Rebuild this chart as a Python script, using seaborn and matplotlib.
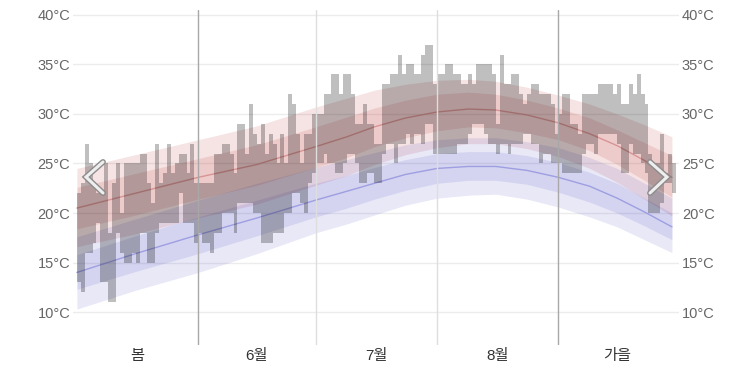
import matplotlib
matplotlib.use("Agg")
import matplotlib.pyplot as plt
import matplotlib.patheffects as pe
import numpy as np
import seaborn as sns

# --- data ---------------------------------------------------------------- #

month_labels = ["봄", "6월", "7월", "8월", "가을"]
month_days = [31, 30, 31, 31, 30]

# observed daily high / low (°C), May 1 .. Sep 30
daily_high = [
    22, 23, 27, 25, 23, 22, 22, 25, 18, 23, 25, 20, 25, 25, 25, 25, 26, 26, 23, 21,
    27, 23, 24, 27, 24, 25, 26, 26, 24, 27, 23,
    23, 23, 23, 23, 26, 26, 27, 27, 26, 24, 29, 29, 26, 31, 28, 27, 29, 26, 28, 27,
    25, 28, 25, 32, 31, 28, 25, 28, 28, 30,
    30, 30, 32, 32, 34, 34, 32, 34, 34, 32, 29, 29, 31, 29, 29, 27, 27, 33, 33, 34,
    34, 36, 34, 35, 35, 34, 34, 36, 37, 37, 33,
    34, 34, 35, 35, 34, 34, 33, 33, 34, 33, 35, 35, 35, 35, 34, 29, 36, 33, 33, 34,
    34, 32, 31, 32, 33, 33, 32, 32, 32, 31, 28,
    30, 32, 32, 29, 29, 28, 32, 32, 32, 32, 33, 33, 33, 33, 32, 33, 31, 31, 33, 32,
    34, 32, 31, 26, 25, 25, 28, 24, 26, 25,
]
daily_low = [
    13, 12, 16, 16, 17, 19, 13, 13, 11, 11, 18, 16, 15, 15, 16, 15, 18, 18, 15, 15,
    18, 19, 19, 19, 19, 19, 22, 19, 19, 19, 17,
    18, 17, 17, 16, 18, 18, 20, 20, 20, 18, 21, 21, 21, 21, 20, 20, 17, 17, 17, 18,
    18, 18, 20, 20, 22, 22, 21, 20, 23, 24,
    25, 25, 26, 25, 25, 24, 24, 25, 26, 26, 25, 23, 23, 24, 24, 23, 23, 26, 27, 27,
    25, 27, 27, 28, 27, 28, 28, 27, 29, 29, 26,
    26, 26, 26, 26, 26, 27, 27, 27, 28, 29, 29, 29, 28, 27, 27, 26, 27, 27, 26, 27,
    27, 27, 28, 28, 27, 27, 25, 26, 26, 25, 25,
    25, 24, 24, 24, 24, 24, 26, 27, 27, 26, 28, 28, 28, 28, 28, 27, 24, 24, 27, 26,
    26, 25, 24, 20, 20, 20, 21, 23, 23, 22,
]

# climatology bands (day index from May 1)
band_day = [0, 15, 31, 46, 61, 69, 76, 84, 92, 100, 107, 115, 123, 131, 138, 145, 152]
hi_mean = [20.5, 22.0, 23.6, 24.9, 26.7, 27.7, 28.7, 29.6, 30.2, 30.5, 30.4, 29.9, 29.1, 28.0, 26.8, 25.3, 23.6]
hi_p90 = [24.5, 25.9, 27.4, 28.8, 30.7, 31.6, 32.4, 33.0, 33.4, 33.5, 33.3, 32.7, 31.9, 31.0, 30.0, 28.9, 27.7]
hi_p75 = [22.6, 24.0, 25.5, 26.9, 28.7, 29.7, 30.6, 31.4, 32.0, 32.2, 32.0, 31.4, 30.6, 29.6, 28.4, 27.1, 25.8]
hi_p25 = [18.4, 19.8, 21.4, 22.8, 24.6, 25.6, 26.7, 27.6, 28.3, 28.7, 28.6, 28.1, 27.4, 26.3, 24.9, 23.3, 21.6]
hi_p10 = [16.6, 17.9, 19.5, 20.9, 22.8, 23.8, 24.9, 25.9, 26.6, 27.0, 27.0, 26.5, 25.7, 24.5, 23.1, 21.4, 19.7]
lo_mean = [14.0, 15.9, 17.8, 19.5, 21.3, 22.2, 23.0, 23.9, 24.5, 24.7, 24.7, 24.3, 23.6, 22.7, 21.5, 20.1, 18.6]
lo_p90 = [17.6, 19.4, 21.3, 23.0, 24.6, 25.4, 26.1, 26.9, 27.4, 27.6, 27.6, 27.2, 26.6, 25.6, 24.5, 23.0, 21.5]
lo_p75 = [15.8, 17.7, 19.6, 21.3, 23.0, 23.8, 24.6, 25.4, 26.0, 26.2, 26.2, 25.8, 25.1, 24.1, 23.0, 21.5, 20.0]
lo_p25 = [12.3, 14.1, 15.9, 17.7, 19.6, 20.5, 21.4, 22.3, 23.0, 23.3, 23.3, 22.9, 22.1, 21.1, 20.0, 18.7, 17.3]
lo_p10 = [10.3, 12.2, 14.0, 15.9, 18.0, 18.9, 19.8, 20.8, 21.5, 21.8, 21.9, 21.4, 20.6, 19.6, 18.6, 17.3, 16.0]

y_ticks = [10, 15, 20, 25, 30, 35, 40]

# --- style ----------------------------------------------------------------- #

sns.set_theme(style="white")
plt.rcParams["font.family"] = ["Liberation Sans", "Noto Sans CJK KR"]

RED = "#c03c3c"
BLUE = "#4f4fc8"

W, H = 753, 367
fig = plt.figure(figsize=(W / 100, H / 100), dpi=100)
ax = fig.add_axes([73 / W, 1 - 345 / H, (679 - 73) / W, (345 - 10) / H])

# percentile bands
for lo_b, hi_b in [(hi_p10, hi_p90), (hi_p25, hi_p75)]:
    ax.fill_between(band_day, lo_b, hi_b, color=RED, alpha=0.14, lw=0, zorder=1)
for lo_b, hi_b in [(lo_p10, lo_p90), (lo_p25, lo_p75)]:
    ax.fill_between(band_day, lo_b, hi_b, color=BLUE, alpha=0.13, lw=0, zorder=1)

sns.lineplot(x=band_day, y=hi_mean, color="#d89494", lw=1.0, ax=ax, zorder=2)
sns.lineplot(x=band_day, y=lo_mean, color="#9e9ee2", lw=1.0, ax=ax, zorder=2)

# daily range bars, drawn as one stepped polygon so adjacent days don't seam
n = len(daily_high)
edges = np.arange(n + 1)
ax.fill_between(edges, daily_low + daily_low[-1:], daily_high + daily_high[-1:],
                step="post", color="black", alpha=0.25, lw=0, zorder=3)

# month separators
bounds = np.cumsum(month_days)[:-1]
for i, b in enumerate(bounds):
    dark = i in (0, len(bounds) - 1)
    ax.axvline(b, color="#a8a8a8" if dark else "#dedede", lw=1, zorder=4)

# axes cosmetics
starts = np.concatenate([[0], bounds])
centers = starts + np.array(month_days) / 2
ax.set_xticks(centers)
ax.set_xticklabels(month_labels)
ax.set_yticks(y_ticks)
ax.set_yticklabels([f"{t}°C" for t in y_ticks])
ax.set_xlim(-1.0, n + 0.8)
ax.set_ylim(6.67, 40.5)
ax.yaxis.grid(True, color="#ececec", lw=1)
ax.xaxis.grid(False)
ax.set_axisbelow(True)
for s in ax.spines.values():
    s.set_visible(False)
ax.tick_params(axis="y", length=0, labelsize=10.5, labelcolor="#666666",
               labelright=True, pad=2)
ax.tick_params(axis="x", length=0, labelsize=11, labelcolor="#333333", pad=3)

# carousel arrows
for xs in ([103, 86, 103], [650, 667, 650]):
    fig.add_artist(plt.Line2D(
        [x / W for x in xs], [1 - 162 / H, 1 - 177 / H, 1 - 193 / H],
        transform=fig.transFigure, color="#eeeeee", lw=2.2, zorder=10,
        solid_joinstyle="miter",
        path_effects=[pe.Stroke(linewidth=4.2, foreground="#8c8c8c"), pe.Normal()],
    ))

fig.savefig("out.png", dpi=100)
